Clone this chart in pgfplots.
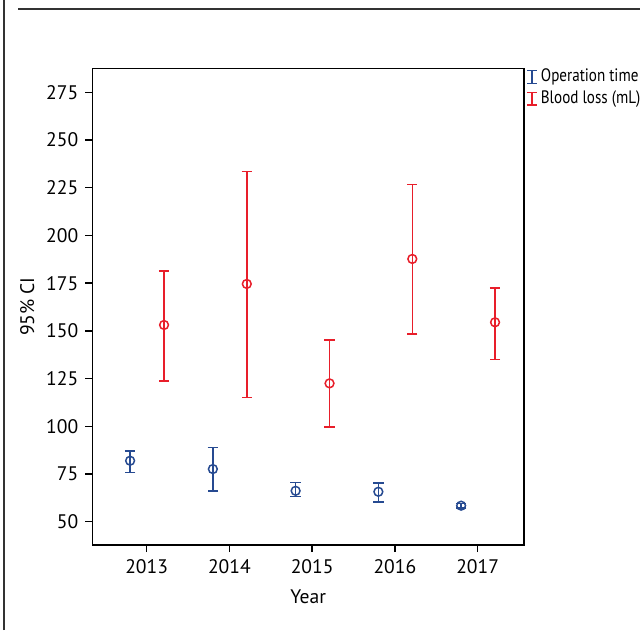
\documentclass[border=0pt]{standalone}
\usepackage{pgfplots}
\pgfplotsset{compat=1.18}
\usepackage{fontspec}
\setmainfont{PT Sans}
\newfontfamily\legfont[FakeStretch=0.84]{PT Sans}
\definecolor{cblue}{RGB}{38,74,145}
\definecolor{cred}{RGB}{232,30,42}
\begin{document}
\begin{tikzpicture}
\useasboundingbox (0,0) rectangle (320pt,315pt);
\draw[line width=0.6pt,black!80] (9pt,310.5pt) -- (320pt,310.5pt);
\draw[line width=0.6pt,black!80] (2pt,0pt) -- (2pt,315pt);
\begin{axis}[
  at={(46.15pt,42.5pt)}, anchor=south west,
  scale only axis, width=215.85pt, height=238.35pt,
  xmin=2012.343, xmax=2017.56, ymin=37.8, ymax=287.6,
  xtick={2013,2014,2015,2016,2017},
  ytick={50,75,100,125,150,175,200,225,250,275},
  xticklabel style={/pgf/number format/1000 sep={}},
  /pgf/number format/assume math mode=true,
  tick align=outside, xtick pos=bottom, ytick pos=left,
  major tick length=3.5pt,
  tick style={black, line width=0.7pt},
  axis line style={black, line width=0.75pt},
  font=\fontsize{9.8pt}{11pt}\selectfont,
  xlabel={Year}, ylabel={95\% CI},
  xlabel style={yshift=-1.5pt},
  ylabel style={yshift=-1pt},
  legend style={at={(1,1.012)}, anchor=north west, draw=none, fill=none,
    font=\legfont\fontsize{9pt}{10pt}\selectfont, row sep=-1pt, inner sep=1pt,
    nodes={inner xsep=1.5pt}},
  legend cell align=left,
]
\addplot[forget plot, only marks, mark=o, mark size=2.2pt, cblue, line width=0.75pt,
  error bars/.cd, y dir=both, y explicit,
  error bar style={line width=0.75pt, cblue},
  error mark options={rotate=90, mark size=2.6pt, line width=0.75pt, cblue}]
  table[x=x, y=y, y error plus=ep, y error minus=em] {
x y ep em
2012.8 81.96 5.2 6.1
2013.8 77.6 11.2 11.4
2014.8 66.2 4.4 3.1
2015.8 65.7 4.7 5.4
2016.8 58.4 1.2 1.2
};
\addplot[forget plot, only marks, mark=o, mark size=2.2pt, cred, line width=0.75pt,
  error bars/.cd, y dir=both, y explicit,
  error bar style={line width=0.75pt, cred},
  error mark options={rotate=90, mark size=2.6pt, line width=0.75pt, cred}]
  table[x=x, y=y, y error plus=ep, y error minus=em] {
x y ep em
2013.21 153.1 28.3 29.4
2014.21 174.6 58.8 59.6
2015.21 122.5 22.7 22.9
2016.21 187.7 38.9 39.3
2017.21 154.5 18.1 19.6
};
\addlegendimage{legend image code/.code={
  \draw[cblue,line width=0.75pt] (0pt,-3.2pt) -- (0pt,3.2pt);
  \draw[cblue,line width=0.75pt] (-2.5pt,-3.2pt) -- (2.5pt,-3.2pt);
  \draw[cblue,line width=0.75pt] (-2.5pt,3.2pt) -- (2.5pt,3.2pt);}}
\addlegendentry{Operation time}
\addlegendimage{legend image code/.code={
  \draw[cred,line width=0.75pt] (0pt,-3.2pt) -- (0pt,3.2pt);
  \draw[cred,line width=0.75pt] (-2.5pt,-3.2pt) -- (2.5pt,-3.2pt);
  \draw[cred,line width=0.75pt] (-2.5pt,3.2pt) -- (2.5pt,3.2pt);}}
\addlegendentry{Blood loss (mL)}
\end{axis}
\end{tikzpicture}
\end{document}
